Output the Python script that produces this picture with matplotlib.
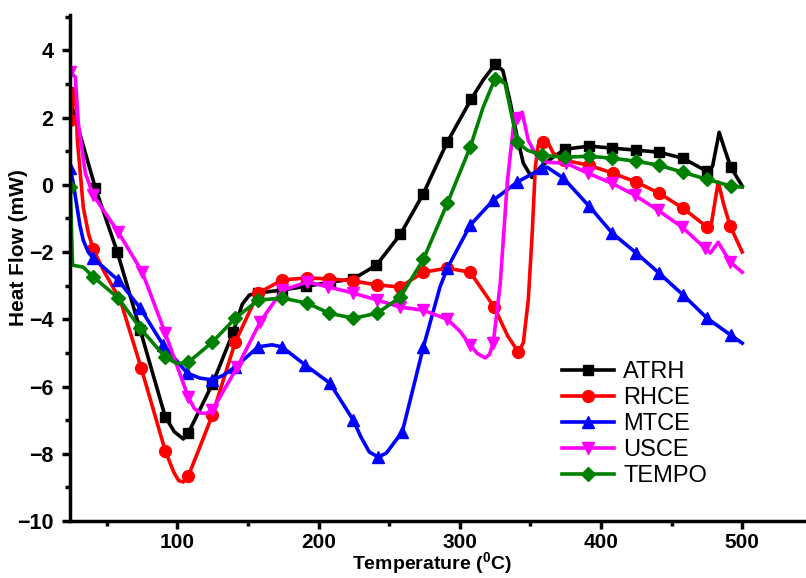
import matplotlib
matplotlib.use("Agg")
import matplotlib.pyplot as plt
from matplotlib.ticker import MultipleLocator
from matplotlib.lines import Line2D

plt.rcParams['font.family'] = ['Liberation Sans', 'DejaVu Sans']
plt.rcParams['mathtext.fontset'] = 'custom'
plt.rcParams['mathtext.rm'] = 'Liberation Sans:bold'
plt.rcParams['mathtext.bf'] = 'Liberation Sans:bold'

# ---------------- data ----------------
atrh_T = [24.2, 42, 57.5, 73.8, 91.5, 98, 104.2, 107.8, 124.8, 139.6, 146, 151, 157, 174, 191, 208, 224.6,
          241, 258, 274, 291, 308, 316.6, 325, 330.5, 335.5, 340.7, 345, 351, 357, 366, 374.7, 391.7,
          408, 425, 441, 458, 475, 479, 483.7, 488, 492, 500]
atrh_y = [2.51, -0.10, -2.0, -4.33, -6.91, -7.35, -7.56, -7.38, -5.93, -4.38, -3.55, -3.28, -3.22, -3.13, -3.02, -2.9, -2.8,
          -2.39, -1.47, -0.28, 1.26, 2.54, 3.12, 3.58, 3.4, 2.5, 1.41, 0.64, 0.22, 0.52, 0.82, 1.06, 1.15,
          1.09, 1.03, 0.97, 0.79, 0.40, 0.55, 1.56, 1.0, 0.52, -0.04]
atrh_marks = [0, 1, 2, 3, 4, 7, 8, 9, 12, 13, 14, 15, 16, 17, 18, 19, 20, 21, 23, 31, 32, 33, 34, 35, 36, 37, 41]

rhce_T = [24.2, 26.4, 28.5, 29.2, 31.3, 33.4, 37, 40.5, 47.6, 59.6, 74.5, 91.5, 97.5, 101, 104.2, 107.8,
          115, 124.8, 141, 157.3, 174.3, 192, 207.6, 224.6, 241.6, 257.9, 274.2, 291.2, 307.4, 324.4,
          334, 341.4, 345, 348.5, 351.3, 353.5, 355.6, 359.1, 362, 366.2, 374, 391.7, 408.7, 425, 441.2,
          458.2, 475.2, 478, 483, 487, 491.5, 500]
rhce_y = [1.92, 2.87, 2.3, 1.33, 0.34, -0.67, -1.44, -1.92, -2.54, -3.43, -5.46, -7.92, -8.55, -8.8, -8.84, -8.66,
          -7.9, -6.85, -4.68, -3.22, -2.83, -2.77, -2.80, -2.86, -2.98, -3.04, -2.60, -2.48, -2.60, -3.64,
          -4.5, -4.97, -4.7, -3.43, -1.44, 0.53, 1.19, 1.27, 1.3, 0.94, 0.73, 0.58, 0.34, 0.08, -0.25,
          -0.70, -1.26, -1.2, 0.08, -0.6, -1.23, -2.0]
rhce_marks = [0, 7, 10, 11, 15, 17, 18, 19, 20, 21, 22, 23, 24, 25, 26, 27, 28, 29, 31, 37, 40, 41, 42, 43,
              44, 45, 46, 50]

mtce_T = [24.2, 26.3, 29, 31, 33.4, 36.9, 40.5, 58.2, 73.8, 90, 107, 116, 124.8, 132, 141, 157.3, 167, 174,
          190.6, 208, 224.6, 230, 236, 242.3, 248, 253, 259.3, 274.2, 286, 291.2, 307.4, 323.7, 340.7,
          358.4, 362, 373.3, 391.7, 408, 425, 441.2, 458.2, 475.2, 492.2, 500]
mtce_y = [0.49, 0.05, -0.67, -1.2, -1.65, -2.0, -2.19, -2.84, -3.67, -4.77, -5.6, -5.75, -5.8, -5.68, -5.42,
          -4.82, -4.76, -4.82, -5.36, -5.9, -7.0, -7.5, -7.95, -8.1, -7.98, -7.7, -7.35, -4.83, -3.04,
          -2.48, -1.2, -0.46, 0.08, 0.49, 0.52, 0.2, -0.64, -1.44, -2.03, -2.63, -3.28, -3.97, -4.48, -4.71]
mtce_marks = [0, 6, 7, 8, 9, 10, 12, 14, 15, 17, 18, 19, 20, 23, 26, 27, 29, 30, 31, 32, 33, 35, 36,
              37, 38, 39, 40, 41, 42]

usce_T = [24.2, 27.8, 29.9, 34.9, 40.5, 58.2, 75.2, 91.5, 107.8, 112, 116.3, 120.5, 124.8, 142.5, 158.8,
          174.3, 192, 207, 224.6, 241.6, 258, 274, 291.2, 300, 307.4, 312.5, 318, 321, 323.7, 328.7, 333.6,
          337.9, 340.7, 344.2, 348.5, 354.9, 362, 375.4, 391, 408, 424, 440.5, 457.5, 473.8, 477.5, 483,
          491.5, 500]
usce_y = [3.35, 3.2, 1.83, 0.34, -0.31, -1.41, -2.6, -4.42, -6.32, -6.65, -6.79, -6.8, -6.7, -5.42, -4.07,
          -3.14, -2.89, -3.04, -3.22, -3.43, -3.64, -3.73, -4.0, -4.35, -4.77, -5.02, -5.15, -5.05, -4.71,
          -2.92, 0.05, 1.71, 1.98, 2.16, 1.32, 0.82, 0.67, 0.64, 0.34, 0.04, -0.31, -0.76, -1.26, -1.89,
          -2.03, -1.71, -2.3, -2.6]
usce_marks = [0, 4, 5, 6, 7, 8, 12, 13, 14, 15, 16, 17, 18, 19, 20, 21, 22, 24, 28, 32, 37, 38, 39, 40,
              41, 42, 43, 46]

tempo_T = [24.2, 25.8, 33.4, 40.5, 58.2, 73.8, 91.5, 100, 107.8, 124.8, 141, 157.3, 174.3, 192, 207.6,
           224.6, 241.6, 257.9, 274.2, 291.2, 307.4, 316.5, 325, 332, 337.1, 340.7, 347.8, 358.4, 374.7,
           391.7, 408, 425, 441.2, 458.2, 475.2, 492.2, 500]
tempo_y = [-0.07, -2.39, -2.45, -2.74, -3.37, -4.27, -5.13, -5.32, -5.28, -4.68, -3.97, -3.43, -3.37, -3.52,
           -3.82, -3.97, -3.82, -3.34, -2.22, -0.55, 1.12, 2.3, 3.16, 3.02, 2.0, 1.26, 1.03, 0.88, 0.82,
           0.85, 0.79, 0.70, 0.58, 0.37, 0.16, -0.04, -0.07]
tempo_marks = [0, 3, 4, 5, 6, 8, 9, 10, 11, 12, 13, 14, 15, 16, 17, 18, 19, 20, 22, 25, 27, 28, 29, 30,
               31, 32, 33, 34, 35]

names = ["ATRH", "RHCE", "MTCE", "USCE", "TEMPO"]
colors = ["#000000", "#FF0000", "#0000FF", "#FF00FF", "#008000"]
markers = ["s", "o", "^", "v", "D"]
msizes = [7.5, 8.5, 8.5, 8.5, 7]

series = [(atrh_T, atrh_y, atrh_marks), (rhce_T, rhce_y, rhce_marks), (mtce_T, mtce_y, mtce_marks),
          (usce_T, usce_y, usce_marks), (tempo_T, tempo_y, tempo_marks)]

# ---------------- figure ----------------
fig = plt.figure(figsize=(8.06, 5.78), dpi=100)
ax = fig.add_axes([70 / 806, 57 / 578, 740 / 806, 506 / 578])

for (T, y, mk), name, c, m, ms in zip(series, names, colors, markers, msizes):
    ax.plot(T, y, color=c, lw=2.6, marker=m, markersize=ms, markevery=mk,
            markeredgecolor=c, markerfacecolor=c, label=name, solid_joinstyle='round')

ax.set_xlim(24, 548)
ax.set_ylim(-10, 5.05)

ax.xaxis.set_major_locator(MultipleLocator(100))
ax.xaxis.set_minor_locator(MultipleLocator(50))
ax.yaxis.set_major_locator(MultipleLocator(2))
ax.yaxis.set_minor_locator(MultipleLocator(1))

for s in ['top', 'right']:
    ax.spines[s].set_visible(False)
for s in ['left', 'bottom']:
    ax.spines[s].set_linewidth(2.5)

ax.tick_params(which='major', direction='out', length=5.8, width=2.5, labelsize=15.5)
ax.tick_params(axis='y', which='major', pad=6)
ax.tick_params(axis='x', which='major', pad=2.5, labelsize=15)
ax.tick_params(which='minor', direction='out', length=3.8, width=2.5)
for lab in ax.get_xticklabels() + ax.get_yticklabels():
    lab.set_fontweight('bold')

ax.set_xlabel(r'Temperature ($^{\mathbf{0}}$C)', fontsize=14, fontweight='bold')
ax.xaxis.label.set_va('bottom')
ax.xaxis.set_label_coords(0.489, -0.111)
ax.set_ylabel('Heat Flow (mW)', fontsize=15, fontweight='bold')
ax.yaxis.label.set_va('center')
ax.yaxis.set_label_coords(-0.069, 0.54)

handles = [Line2D([0], [0], color=c, lw=2.6, marker=m, markersize=ms, markerfacecolor=c,
                  markeredgecolor=c) for c, m, ms in zip(colors, markers, msizes)]
leg = ax.legend(handles, names, loc='upper left', bbox_to_anchor=(0.652, 0.335),
                frameon=False, fontsize=17, handlelength=2.2, handletextpad=0.4,
                labelspacing=0.17, borderaxespad=0)

fig.savefig("out.png", dpi=100)
